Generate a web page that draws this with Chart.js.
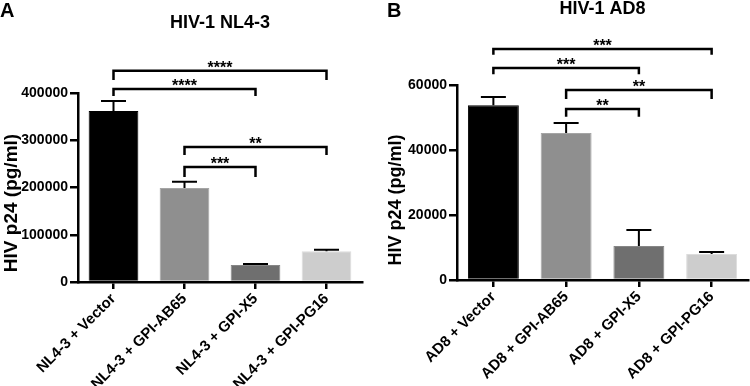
<!DOCTYPE html>
<html lang="en">
<head>
<meta charset="UTF-8">
<title>HIV p24 - NL4-3 and AD8</title>
<script src="https://cdn.jsdelivr.net/npm/chart.js"></script>
<style>
    body {
        margin: 0;
        background: #fff;
    }
    .row {
        display: flex;
        width: 750px;
        height: 386px;
    }
    .panel {
        width: 375px;
        height: 386px;
    }
</style>
</head>
<body>
<div class="row">
    <div class="panel"><canvas id="chartA" width="375" height="386"></canvas></div>
    <div class="panel"><canvas id="chartB" width="375" height="386"></canvas></div>
</div>
<script>
// Panel A - HIV-1 NL4-3
const labelsA = ['NL4-3 + Vector', 'NL4-3 + GPI-AB65', 'NL4-3 + GPI-X5', 'NL4-3 + GPI-PG16'];
const meansA = [362000, 199000, 36000, 65000];
const semA = [21000, 13000, 2000, 3000];
const yMaxA = 400000;
const yStepA = 100000;
// significance brackets: [from bar, to bar, bracket value, leg end value, stars]
const bracketsA = [
    [0, 3, 447000, 427500, '****'],
    [0, 2, 408500, 393700, '****'],
    [1, 3, 285700, 268800, '**'],
    [1, 2, 243400, 222200, '***']
];

// Panel B - HIV-1 AD8
const labelsB = ['AD8 + Vector', 'AD8 + GPI-AB65', 'AD8 + GPI-X5', 'AD8 + GPI-PG16'];
const meansB = [53800, 45200, 10500, 8000];
const semB = [2500, 3100, 4900, 600];
const yMaxB = 60000;
const yStepB = 20000;
const bracketsB = [
    [0, 3, 71100, 69300, '***'],
    [0, 2, 65200, 63300, '***'],
    [1, 3, 58500, 55700, '**'],
    [1, 2, 52600, 50200, '**']
];

const yTitle = 'HIV p24 (pg/ml)';

const FONT = "'Liberation Sans', Arial, Helvetica, sans-serif";
Chart.defaults.font.family = FONT;
Chart.defaults.color = '#000';

const barFill = ['#000000', '#8f8f8f', '#6f6f6f', '#cdcdcd'];
const barEdge = ['#000000', '#a5a5a5', '#868686', '#dcdcdc'];

// error bars, brackets, panel letter and y title
const extras = {
    id: 'extras',
    afterDatasetsDraw(chart, args, o) {
        const { ctx, scales: { x, y } } = chart;
        const means = chart.data.datasets[0].data;
        ctx.save();
        ctx.strokeStyle = '#000';
        ctx.fillStyle = '#000';

        ctx.lineWidth = 2;
        means.forEach((m, i) => {
            const cx = x.getPixelForValue(i);
            const top = y.getPixelForValue(m + o.sem[i]);
            ctx.beginPath();
            ctx.moveTo(cx, y.getPixelForValue(m));
            ctx.lineTo(cx, top);
            ctx.moveTo(cx - 12.5, top);
            ctx.lineTo(cx + 12.5, top);
            ctx.stroke();
        });

        ctx.lineWidth = 2.5;
        ctx.font = 'bold 16px ' + FONT;
        ctx.textAlign = 'center';
        ctx.textBaseline = 'alphabetic';
        o.brackets.forEach(([a, b, h, leg, stars]) => {
            const x1 = x.getPixelForValue(a);
            const x2 = x.getPixelForValue(b);
            const yl = y.getPixelForValue(h);
            const yLeg = y.getPixelForValue(leg);
            ctx.beginPath();
            ctx.moveTo(x1, yLeg);
            ctx.lineTo(x1, yl);
            ctx.lineTo(x2, yl);
            ctx.lineTo(x2, yLeg);
            ctx.stroke();
            ctx.fillText(stars, (x1 + x2) / 2, yl + 2);
        });

        ctx.font = 'bold 20px ' + FONT;
        ctx.textAlign = 'left';
        ctx.fillText(o.letter, o.letterX, 17);

        ctx.translate(o.titleX, o.titleY);
        ctx.rotate(-Math.PI / 2);
        ctx.font = 'bold ' + o.titleSize + 'px ' + FONT;
        ctx.textAlign = 'center';
        ctx.textBaseline = 'middle';
        ctx.fillText(yTitle, 0, 0);
        ctx.restore();
    }
};

function makeChart(id, p) {
    return new Chart(document.getElementById(id), {
        type: 'bar',
        data: {
            labels: p.labels,
            datasets: [{
                data: p.means,
                backgroundColor: barFill,
                borderColor: barEdge,
                borderWidth: 1,
                categoryPercentage: 1,
                barPercentage: 0.7
            }]
        },
        options: {
            responsive: false,
            animation: false,
            layout: { padding: { left: 0, right: p.padRight, top: 0, bottom: 0 } },
            plugins: {
                legend: { display: false },
                tooltip: { enabled: false },
                title: {
                    display: true,
                    text: p.title,
                    fullSize: false,
                    color: '#000',
                    font: { size: 18, weight: 'bold', lineHeight: 1 },
                    padding: { top: p.titleTop, bottom: p.areaTop - p.titleTop - 18 }
                },
                extras: {
                    sem: p.sem,
                    brackets: p.brackets,
                    letter: p.letter,
                    letterX: p.letterX,
                    titleX: p.yTitleX,
                    titleY: p.yTitleY,
                    titleSize: p.yTitleSize
                }
            },
            scales: {
                x: {
                    offset: true,
                    grid: { offset: false, drawOnChartArea: false, tickLength: 7, color: '#000', lineWidth: 2.5 },
                    border: { color: '#000', width: 2.5 },
                    ticks: {
                        autoSkip: false,
                        minRotation: 45,
                        maxRotation: 45,
                        padding: 1,
                        color: '#000',
                        font: { size: 15, weight: 'bold' }
                    },
                    afterFit: s => { s.height = 386 - p.areaBottom; }
                },
                y: {
                    min: 0,
                    max: p.yMax,
                    grid: { drawOnChartArea: false, tickLength: 8, color: '#000', lineWidth: 2.5 },
                    border: { color: '#000', width: 2.5 },
                    ticks: {
                        stepSize: p.yStep,
                        padding: 2,
                        color: '#000',
                        font: { size: 14, weight: 'bold' },
                        callback: v => String(v)
                    },
                    afterFit: s => { s.width = p.areaLeft; }
                }
            }
        },
        plugins: [extras]
    });
}

makeChart('chartA', {
    labels: labelsA, means: meansA, sem: semA, brackets: bracketsA,
    yMax: yMaxA, yStep: yStepA, title: 'HIV-1 NL4-3',
    letter: 'A', letterX: 0, titleTop: 14,
    areaLeft: 78, areaTop: 93, areaBottom: 282, padRight: 13,
    yTitleX: 12, yTitleY: 203, yTitleSize: 19
});

makeChart('chartB', {
    labels: labelsB, means: meansB, sem: semB, brackets: bracketsB,
    yMax: yMaxB, yStep: yStepB, title: 'HIV-1 AD8',
    letter: 'B', letterX: 12, titleTop: 0,
    areaLeft: 82, areaTop: 85, areaBottom: 280, padRight: 2,
    yTitleX: 21, yTitleY: 200, yTitleSize: 18
});
</script>
</body>
</html>
